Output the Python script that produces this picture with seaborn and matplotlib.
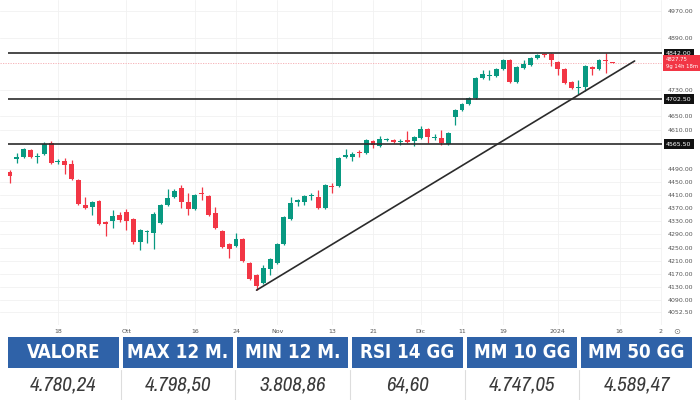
import numpy as np
import pandas as pd
import matplotlib
matplotlib.use('Agg')
import matplotlib.pyplot as plt
import matplotlib.transforms as mtransforms
from matplotlib import font_manager as fm
from matplotlib.patches import Rectangle
import seaborn as sns

# daily candles, trading days from 7 Sep 2023 to 12 Jan 2024
opens = [4480, 4520, 4526, 4548, 4526, 4535, 4569, 4511, 4514, 4505,
         4456, 4380, 4374, 4392, 4328, 4331, 4349, 4358, 4337, 4267,
         4297, 4294, 4325, 4380, 4404, 4432, 4389, 4368, 4416, 4407,
         4355, 4300, 4261, 4255, 4276, 4203, 4166, 4142, 4185, 4203,
         4261, 4337, 4389, 4389, 4407, 4404, 4371, 4438, 4438, 4526,
         4526, 4541, 4538, 4575, 4560, 4578, 4578, 4572, 4578, 4575,
         4584, 4612, 4584, 4584, 4566, 4648, 4670, 4688, 4706, 4767,
         4773, 4773, 4795, 4822, 4755, 4798, 4807, 4828, 4840, 4840,
         4816, 4795, 4755, 4737, 4740, 4801, 4795, 4822, 4816]
closes = [4468, 4526, 4551, 4526, 4529, 4566, 4508, 4514, 4502, 4459,
          4383, 4371, 4389, 4322, 4322, 4346, 4334, 4331, 4267, 4304,
          4300, 4352, 4380, 4401, 4423, 4389, 4368, 4410, 4413, 4349,
          4310, 4252, 4245, 4276, 4209, 4154, 4133, 4188, 4215, 4261,
          4343, 4386, 4395, 4407, 4410, 4371, 4441, 4435, 4523, 4532,
          4535, 4538, 4578, 4563, 4581, 4581, 4572, 4575, 4572, 4587,
          4612, 4587, 4587, 4569, 4599, 4670, 4688, 4706, 4767, 4779,
          4776, 4795, 4822, 4755, 4801, 4810, 4828, 4837, 4837, 4822,
          4795, 4752, 4737, 4740, 4804, 4795, 4822, 4819, 4813]
highs = [4487, 4538, 4554, 4551, 4538, 4572, 4575, 4520, 4523, 4517,
         4459, 4404, 4392, 4395, 4331, 4365, 4358, 4368, 4340, 4307,
         4304, 4358, 4383, 4429, 4429, 4441, 4416, 4413, 4435, 4410,
         4374, 4304, 4264, 4294, 4279, 4206, 4169, 4197, 4218, 4264,
         4346, 4404, 4398, 4410, 4416, 4426, 4444, 4447, 4526, 4551,
         4541, 4548, 4581, 4578, 4590, 4584, 4581, 4581, 4605, 4590,
         4621, 4615, 4596, 4609, 4602, 4673, 4691, 4709, 4770, 4792,
         4792, 4798, 4825, 4825, 4804, 4822, 4831, 4840, 4843, 4843,
         4819, 4798, 4758, 4761, 4807, 4804, 4825, 4843, 4816]
lows = [4447, 4508, 4523, 4523, 4508, 4532, 4505, 4505, 4474, 4456,
        4380, 4368, 4349, 4319, 4285, 4310, 4328, 4304, 4261, 4242,
        4264, 4245, 4322, 4377, 4401, 4371, 4349, 4365, 4395, 4346,
        4307, 4249, 4218, 4252, 4206, 4151, 4120, 4139, 4166, 4200,
        4258, 4334, 4377, 4380, 4395, 4368, 4368, 4416, 4435, 4523,
        4514, 4526, 4535, 4554, 4557, 4575, 4569, 4563, 4569, 4560,
        4581, 4569, 4578, 4563, 4563, 4624, 4666, 4685, 4703, 4764,
        4761, 4770, 4792, 4752, 4752, 4795, 4804, 4825, 4831, 4804,
        4776, 4749, 4734, 4718, 4727, 4776, 4792, 4782, 4813]

date_ticks = [7, 17, 27, 33, 39, 47, 53, 60, 66, 72, 80, 89, 95]
date_labels = ['18', 'Ott', '16', '24', 'Nov', '13', '21', 'Dic', '11', '19', '2024', '16', '2']

price_ticks = [4970, 4890, 4730, 4650, 4610, 4490, 4450, 4410, 4370, 4330,
               4290, 4250, 4210, 4170, 4130, 4090, 4052.5]
levels = [4842.0, 4702.5, 4565.5]
last_label = '4827.75'
last_sub = '9g 14h 18m'

# trendline anchors (day index, price)
trend_x = [36, 91.2]
trend_y = [4120, 4819]

headers = ['VALORE', 'MAX 12 M.', 'MIN 12 M.', 'RSI 14 GG', 'MM 10 GG', 'MM 50 GG']
values = ['4.780,24', '4.798,50', '3.808,86', '64,60', '4.747,05', '4.589,47']

sns.set_theme(style='white')


# look for a narrow font for the table, else use Roboto
def pick(words, avoid):
    for f in fm.fontManager.ttflist:
        n = f.fname.lower()
        if ('narrow' in n or 'condensed' in n) and all(w in n for w in words) \
                and not any(a in n for a in avoid):
            return fm.FontProperties(fname=f.fname)
    return None


head_fp = pick(['bold'], ['italic', 'oblique', 'mono', 'serif'])
val_fp = pick(['italic'], ['bold', 'mono', 'serif']) or pick(['oblique'], ['bold', 'mono', 'serif'])
if head_fp is not None:
    head_fp.set_size(13.5)
else:
    head_fp = fm.FontProperties(family='Roboto', weight='bold', size=13.5)
if val_fp is not None:
    val_fp.set_size(15)
else:
    val_fp = fm.FontProperties(family='Roboto', style='italic', weight='light', size=13.5)

df = pd.DataFrame({'open': opens, 'high': highs, 'low': lows, 'close': closes})
df['day'] = np.arange(len(df))
df['up'] = df['close'] >= df['open']
df['bottom'] = df[['open', 'close']].min(axis=1)
df['body'] = (df['close'] - df['open']).abs().clip(lower=2.5)

UP, DOWN = '#089981', '#f23645'
colors = np.where(df['up'], UP, DOWN)

fig = plt.figure(figsize=(7, 4), dpi=100)
ax = fig.add_axes([0, 0.1875, 662 / 700, 0.8125])

ax.grid(True, color='#f1f1f1', lw=0.6)
ax.vlines(df['day'], df['low'], df['high'], colors=colors, lw=0.9, zorder=2)
ax.bar(df['day'], df['body'], bottom=df['bottom'], width=0.72, color=colors, lw=0, zorder=3)

# last price line
ax.axhline(closes[-1], color='#f4aab0', lw=0.6, ls=(0, (1.5, 1.5)), zorder=1)

xmax = 95.2
ax.hlines(levels, -0.3, xmax, color='#2b2b2b', lw=1.2, zorder=4)
sns.lineplot(x=trend_x, y=trend_y, color='#2b2b2b', lw=1.2, ax=ax, zorder=4)

ax.set_xlim(-1.46, xmax)
ax.set_ylim(4013.75, 5005)
for s in ax.spines.values():
    s.set_visible(False)

ax.set_xticks(date_ticks)
ax.set_xticklabels(date_labels)
ax.yaxis.tick_right()
ax.set_yticks(price_ticks)
ax.set_yticklabels([f'{v:.2f}' for v in price_ticks])
ax.tick_params(axis='x', length=0, pad=3, labelsize=4.5, labelcolor='#555555')
ax.tick_params(axis='y', length=0, pad=4, labelsize=4.5, labelcolor='#555555')

trans = mtransforms.blended_transform_factory(ax.transAxes, ax.transData)
for lv in levels:
    ax.text(1.006, lv, f'{lv:.2f}', transform=trans, ha='left', va='center',
            fontsize=4.5, color='white', clip_on=False, zorder=6,
            bbox=dict(boxstyle='square,pad=0.35', fc='#111111', ec='none'))
ax.text(1.006, closes[-1], f'{last_label}\n{last_sub}', transform=trans, ha='left', va='center',
        fontsize=3.8, color='white', clip_on=False, zorder=6, linespacing=1.4,
        bbox=dict(boxstyle='square,pad=0.5', fc='#f23645', ec='none'))
fig.text(677 / 700, 1 - 331 / 400, '\u2299', ha='center', va='center', fontsize=6, color='#777777')

# table of indicators
tab = fig.add_axes([0, 0, 1, 63 / 400])
tab.set_xlim(0, 700)
tab.set_ylim(400, 337)
tab.axis('off')
left, right, gap = 8, 692, 4
w = (right - left - gap * (len(headers) - 1)) / len(headers)
for i, (h, v) in enumerate(zip(headers, values)):
    x0 = left + i * (w + gap)
    tab.add_patch(Rectangle((x0, 337), w, 31, color='#2f62a8', lw=0))
    tab.text(x0 + w / 2, 353, h, ha='center', va='center', color='white', fontproperties=head_fp)
    tab.text(x0 + w / 2, 385, v, ha='center', va='center', color='#3a3a3a', fontproperties=val_fp)
    if i > 0:
        tab.plot([x0 - gap / 2, x0 - gap / 2], [370, 400], color='#dddddd', lw=0.8)

fig.savefig('out.png', dpi=100)
